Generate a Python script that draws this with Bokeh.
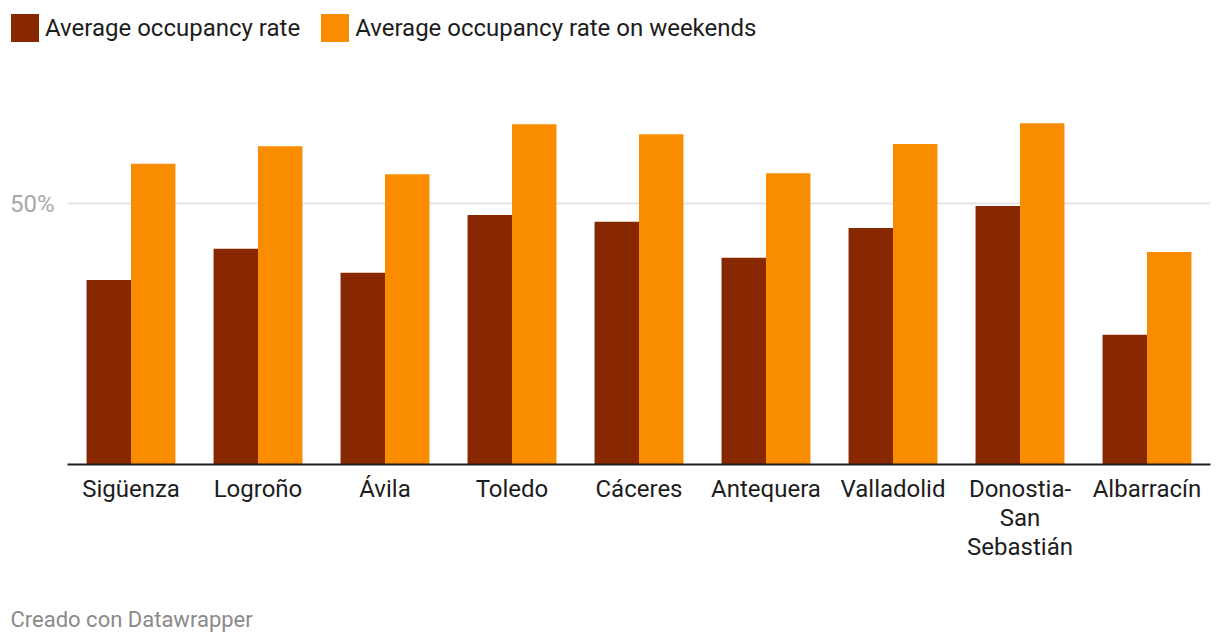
from bokeh.plotting import figure
from bokeh.layouts import column
from bokeh.models import FactorRange, Range1d, FixedTicker, Legend, LegendItem, Label, ColumnDataSource
from bokeh.transform import dodge
from bokeh.embed import file_html
from bokeh.resources import INLINE

cities = ["Sigüenza", "Logroño", "Ávila", "Toledo", "Cáceres", "Antequera",
          "Valladolid", "Donostia-\nSan\nSebastián", "Albarracín"]
avg_rate = [35.4, 41.4, 36.8, 47.9, 46.6, 39.7, 45.4, 49.6, 24.9]
weekend_rate = [57.7, 61.1, 55.7, 65.3, 63.4, 55.9, 61.5, 65.5, 40.8]
series_names = ["Average occupancy rate", "Average occupancy rate on weekends"]
y_ticks = [50]
y_tick_labels = {50: "50%"}
footer = "Creado con Datawrapper"

DARK = "#882800"
ORANGE = "#fa8c00"
FONT = "Roboto"
W = 1220

src = ColumnDataSource(dict(city=cities, avg=avg_rate, wk=weekend_rate))


def strip(height, x_range, y_range):
    f = figure(width=W, height=height, x_range=x_range, y_range=y_range,
               output_backend="svg", toolbar_location=None,
               x_axis_location=None, y_axis_location=None,
               min_border=0, min_border_left=0, min_border_right=0,
               min_border_top=0, min_border_bottom=0)
    f.outline_line_color = None
    f.background_fill_color = "white"
    f.border_fill_color = "white"
    f.grid.visible = False
    return f


# ---- legend strip (same series, drawn outside the visible range; only the legend shows) ----
top = strip(60, FactorRange(*cities), Range1d(1000, 1001))
d1 = top.vbar(x="city", top="avg", width=0.35, source=src, fill_color=DARK, line_color=None)
d2 = top.vbar(x="city", top="wk", width=0.35, source=src, fill_color=ORANGE, line_color=None)
legend = Legend(items=[LegendItem(label=series_names[0], renderers=[d1]),
                       LegendItem(label=series_names[1], renderers=[d2])],
                location=(7, 15), orientation="horizontal",
                glyph_width=35, glyph_height=35, label_standoff=3, spacing=17,
                padding=0, margin=0, border_line_color=None, background_fill_alpha=0,
                label_text_font=FONT, label_text_font_size="24px", label_text_color="#1d1d1d")
top.add_layout(legend, "center")

# ---- main chart ----
p = figure(width=W, height=520, x_range=FactorRange(*cities, range_padding=0),
           y_range=Range1d(0, 73.7), output_backend="svg", toolbar_location=None,
           min_border_left=67, min_border_right=10, min_border_top=20, min_border_bottom=116)
p.outline_line_color = None
p.background_fill_color = "white"
p.border_fill_color = "white"

p.vbar(x=dodge("city", -0.175, range=p.x_range), top="avg", width=0.35,
       source=src, fill_color=DARK, line_color=None)
p.vbar(x=dodge("city", 0.175, range=p.x_range), top="wk", width=0.35,
       source=src, fill_color=ORANGE, line_color=None)

p.xgrid.grid_line_color = None
p.ygrid.ticker = FixedTicker(ticks=y_ticks)
p.ygrid.grid_line_color = "#e5e5e5"
p.ygrid.grid_line_width = 2

p.yaxis.ticker = FixedTicker(ticks=y_ticks)
p.yaxis.major_label_overrides = y_tick_labels
p.yaxis.axis_line_color = None
p.yaxis.major_tick_line_color = None
p.yaxis.minor_tick_line_color = None
p.yaxis.major_label_text_font = FONT
p.yaxis.major_label_text_font_size = "24px"
p.yaxis.major_label_text_color = "#a8a8a8"
p.yaxis.major_label_standoff = 7

p.xaxis.axis_line_color = "#1d1d1d"
p.xaxis.axis_line_width = 2
p.xaxis.major_tick_line_color = None
p.xaxis.minor_tick_line_color = None
p.xaxis.major_label_text_font = FONT
p.xaxis.major_label_text_font_size = "24px"
p.xaxis.major_label_text_color = "#1d1d1d"
p.xaxis.major_label_standoff = 4
p.xaxis.major_label_text_line_height = 1.05

# ---- footer strip ----
bot = strip(62, Range1d(0, 1), Range1d(0, 1))
bot.add_layout(Label(x=10, y=23, x_units="screen", y_units="screen", text=footer,
                     text_font=FONT, text_font_size="22px", text_color="#8a8a8a",
                     text_baseline="alphabetic"))

layout = column(top, column(p, spacing=0), bot, spacing=0)
open("out.html", "w").write(file_html(layout, INLINE))
